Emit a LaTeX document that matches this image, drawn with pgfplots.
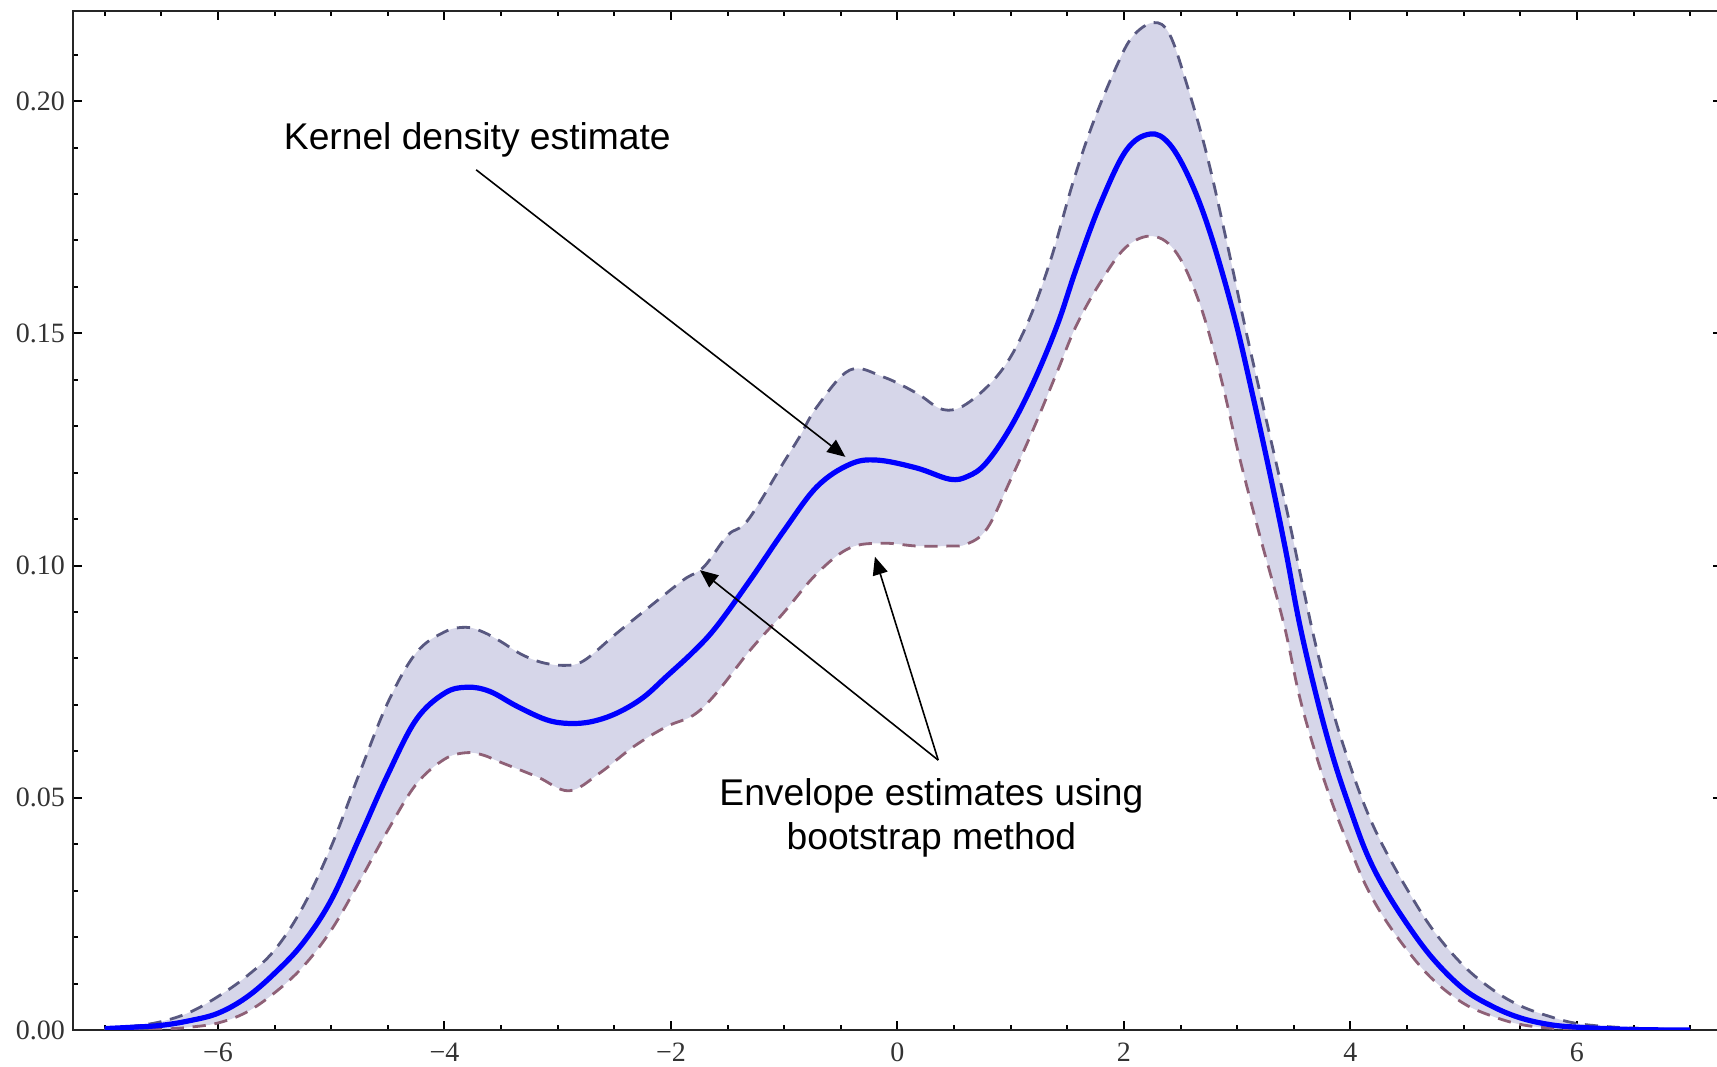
\documentclass[border=0pt]{standalone}
\usepackage{pgfplots}
\pgfplotsset{compat=1.18}
\usepgfplotslibrary{fillbetween}
\usetikzlibrary{arrows.meta}
\usepackage{fontspec}
\setmainfont{Liberation Serif}
\newfontfamily\arial{Liberation Sans}
\definecolor{bandfill}{RGB}{214,214,233}
\definecolor{upcol}{RGB}{88,88,128}
\definecolor{lowcol}{RGB}{142,96,118}
\pgfplotstableread{
x y
-7.0 0.0003
-6.75 0.0008
-6.5 0.0018
-6.25 0.0038
-6.0 0.0072
-5.75 0.0115
-5.5 0.0172
-5.25 0.0265
-5.0 0.0395
-4.75 0.0553
-4.5 0.0705
-4.25 0.0812
-4.0 0.0857
-3.81 0.0867
-3.66 0.0857
-3.5 0.0836
-3.33 0.0810
-3.15 0.0792
-2.95 0.0785
-2.77 0.0795
-2.48 0.0854
-2.19 0.0911
-1.89 0.0969
-1.71 0.0997
-1.50 0.1065
-1.32 0.1098
-1.01 0.1220
-0.86 0.1279
-0.71 0.1342
-0.42 0.1421
-0.125 0.1406
0.17 0.1371
0.40 0.1336
0.61 0.1348
0.91 0.1417
1.14 0.1517
1.35 0.1656
1.55 0.1825
1.73 0.1955
1.94 0.2078
2.08 0.2140
2.26 0.2169
2.40 0.2145
2.55 0.2040
2.73 0.1886
2.91 0.1694
3.08 0.1502
3.26 0.1310
3.44 0.1117
3.58 0.0955
3.70 0.0822
3.85 0.0682
4.0 0.0567
4.14 0.0474
4.29 0.0395
4.5 0.0303
4.73 0.0215
5.0 0.0138
5.26 0.0086
5.5 0.0052
5.76 0.0029
6.0 0.0014
6.34 0.0006
6.7 0.0002
7.0 0.0
}\upperband
\pgfplotstableread{
x y
-7.0 0.0001
-6.5 0.0002
-6.25 0.0006
-6.0 0.0015
-5.75 0.0038
-5.5 0.0080
-5.25 0.0136
-5.0 0.0215
-4.75 0.0320
-4.5 0.0430
-4.25 0.0529
-4.0 0.0583
-3.81 0.0597
-3.66 0.0592
-3.5 0.0576
-3.18 0.0545
-2.9 0.0515
-2.63 0.0553
-2.33 0.0610
-2.04 0.0653
-1.80 0.0678
-1.60 0.0725
-1.30 0.0818
-1.01 0.0897
-0.71 0.0983
-0.42 0.1038
-0.125 0.1048
0.17 0.1042
0.46 0.1042
0.61 0.1046
0.79 0.1079
0.99 0.1180
1.2 0.1294
1.41 0.1417
1.58 0.1517
1.79 0.1609
2.02 0.1686
2.26 0.1709
2.47 0.1671
2.67 0.1563
2.85 0.1410
3.02 0.1233
3.2 0.1064
3.41 0.0876
3.55 0.0718
3.70 0.0589
3.85 0.0481
4.0 0.0388
4.14 0.0309
4.29 0.0244
4.5 0.0172
4.73 0.0108
5.0 0.0057
5.26 0.0029
5.5 0.0012
5.76 0.0004
6.0 0.0001
7.0 0.0
}\lowerband
\pgfplotstableread{
x y
-7.0 0.0003
-6.75 0.0006
-6.5 0.0010
-6.25 0.0020
-6.0 0.0036
-5.75 0.0070
-5.5 0.0122
-5.25 0.0187
-5.0 0.0280
-4.75 0.0414
-4.5 0.0550
-4.25 0.0668
-4.0 0.0725
-3.8 0.0738
-3.6 0.0729
-3.36 0.0697
-3.1 0.0668
-2.9 0.0660
-2.7 0.0664
-2.48 0.0682
-2.25 0.0715
-2.04 0.0761
-1.8 0.0815
-1.6 0.0868
-1.3 0.0969
-1.0 0.1076
-0.71 0.1170
-0.42 0.1218
-0.18 0.1227
0.17 0.1210
0.46 0.1186
0.62 0.1192
0.78 0.1220
0.99 0.1294
1.2 0.1394
1.41 0.1517
1.58 0.1640
1.79 0.1778
2.02 0.1894
2.23 0.1929
2.40 0.1908
2.58 0.1832
2.76 0.1717
2.97 0.1540
3.14 0.1363
3.30 0.1185
3.43 0.1030
3.55 0.0875
3.70 0.0718
3.85 0.0584
4.0 0.0474
4.14 0.0382
4.29 0.0309
4.5 0.0228
4.73 0.0153
5.0 0.0088
5.26 0.0050
5.5 0.0026
5.75 0.0012
6.0 0.0006
6.5 0.0001
7.0 0.0
}\kdetab
\begin{document}
\begin{tikzpicture}
\begin{axis}[
  at={(0,0)}, anchor=south west,
  scale only axis, width=412.23pt, height=254.75pt,
  xmin=-7.28, xmax=7.28, ymin=0, ymax=0.2194,
  axis line style={line width=0.5pt, black!85},
  xtick={-6,-4,-2,0,2,4,6},
  xticklabels={−6,−4,−2,0,2,4,6},
  ytick={0,0.05,0.1,0.15,0.2},
  yticklabels={0.00,0.05,0.10,0.15,0.20},
  minor xtick={-7,-6.5,...,7},
  minor ytick={0.01,0.02,0.03,0.04,0.06,0.07,0.08,0.09,0.11,0.12,0.13,0.14,0.16,0.17,0.18,0.19,0.21},
  tick align=inside, major tick length=2.3pt, minor tick length=1.3pt,
  tick style={black, line width=0.5pt},
  ticklabel style={font=\fontsize{7}{8}\selectfont, text=black!80},
  xticklabel style={yshift=0.3pt},
  yticklabel style={xshift=1.5pt},
  every axis plot/.append style={smooth, tension=0.6},
]
\addplot[name path=upper, draw=none, forget plot] table {\upperband};
\addplot[name path=lower, draw=none, forget plot] table {\lowerband};
\addplot[fill=bandfill, draw=none, forget plot] fill between[of=upper and lower];
\addplot[upcol, line width=0.7pt, dash pattern=on 3.3pt off 2.2pt] table {\upperband};
\addplot[lowcol, line width=0.7pt, dash pattern=on 3.3pt off 2.2pt] table {\lowerband};
\addplot[blue, line width=1.3pt] table {\kdetab};
\node[font=\arial\fontsize{9.3}{11}\selectfont] at (axis cs:-3.71,0.1916) {Kernel density estimate};
\node[font=\arial\fontsize{9.3}{11}\selectfont, align=center] at (axis cs:0.30,0.0456) {Envelope estimates using\\bootstrap method};
\draw[-{Triangle[length=4.5pt,width=3.8pt]}, line width=0.4pt] (axis cs:-3.72,0.1852) -- (axis cs:-0.46,0.1234);
\draw[-{Triangle[length=4.5pt,width=3.8pt]}, line width=0.4pt] (axis cs:0.36,0.0581) -- (axis cs:-1.744,0.0990);
\draw[-{Triangle[length=4.5pt,width=3.8pt]}, line width=0.4pt] (axis cs:0.36,0.0581) -- (axis cs:-0.199,0.1019);
\end{axis}
\pgfresetboundingbox
\path (-18.25pt,-9.25pt) rectangle (411pt,257.5pt);
\end{tikzpicture}
\end{document}
